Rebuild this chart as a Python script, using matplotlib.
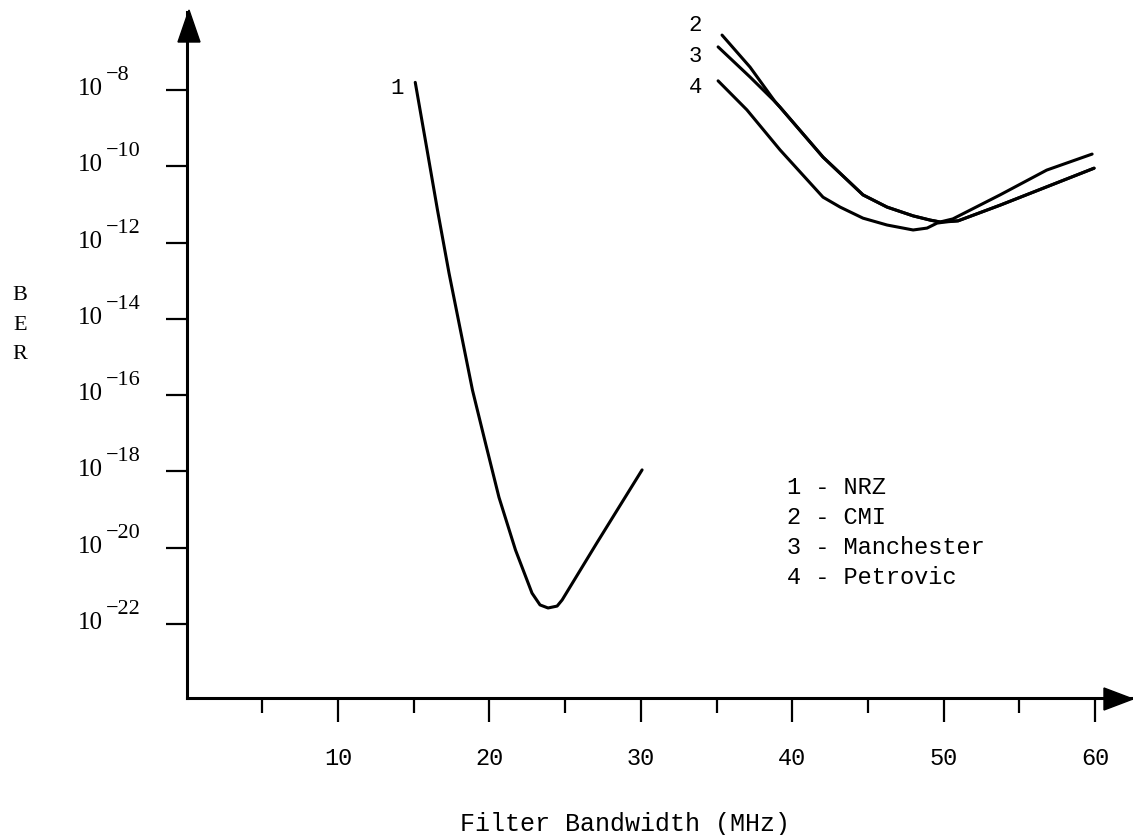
import numpy as np
import matplotlib
matplotlib.use("Agg")
import matplotlib.pyplot as plt
from matplotlib.patches import Polygon
from matplotlib.ticker import NullLocator

# curves: filter bandwidth (MHz) and log10(BER)
nrz_bw = [15.1, 15.88, 16.57, 17.33, 17.99, 18.88, 19.74, 20.63, 21.72, 22.81,
          23.34, 23.87, 24.47, 24.8, 27.1, 30.08]
nrz_log = [-7.8, -9.57, -11.15, -12.80, -14.11, -15.87, -17.26, -18.68, -20.06,
           -21.19, -21.50, -21.58, -21.53, -21.37, -19.87, -17.96]

cmi_bw = [35.36, 37.21, 38.87, 39.19, 42.03, 44.67, 46.26, 47.98, 49.1, 49.76,
          50.6, 53.72, 56.8, 59.8]
cmi_log = [-6.56, -7.40, -8.31, -8.45, -9.76, -10.75, -11.07, -11.30, -11.41,
           -11.46, -11.38, -10.75, -10.1, -9.68]

man_bw = [35.1, 37.21, 38.87, 39.19, 42.03, 44.67, 46.26, 47.98, 49.1, 49.76,
          50.95, 53.72, 59.93]
man_log = [-6.87, -7.66, -8.31, -8.45, -9.76, -10.75, -11.07, -11.30, -11.41,
           -11.46, -11.43, -11.02, -10.05]

pet_bw = [35.1, 37.0, 39.19, 40.7, 42.03, 43.16, 44.67, 46.26, 47.98, 48.9,
          49.56, 50.1, 50.95, 53.72, 59.93]
pet_log = [-7.76, -8.52, -9.57, -10.23, -10.81, -11.07, -11.36, -11.54, -11.67,
           -11.62, -11.49, -11.46, -11.43, -11.02, -10.05]

curves = [("1", nrz_bw, nrz_log, (-18, -6)),
          ("2", cmi_bw, cmi_log, (-27, 10)),
          ("3", man_bw, man_log, (-23, -10)),
          ("4", pet_bw, pet_log, (-23, -7))]

legend_lines = ["1 - NRZ", "2 - CMI", "3 - Manchester", "4 - Petrovic"]

ytick_exp = [-8, -10, -12, -14, -16, -18, -20, -22]
xtick_major = [10, 20, 30, 40, 50, 60]
xtick_minor = [5, 15, 25, 35, 45, 55]

W, H = 1133, 835
fig = plt.figure(figsize=(W / 100, H / 100), dpi=100)
fig.patch.set_facecolor("white")

# axes box in pixels: x from 186.6 to 1133, y from 12 to 698
ax = fig.add_axes([186.6 / W, (H - 698) / H, (W - 186.6) / W, (698 - 12) / H])
ax.set_yscale("log")
ax.set_xlim(0, 62.5)
ax.set_ylim(10 ** -23.94, 10 ** -5.955)

for spine in ["top", "right"]:
    ax.spines[spine].set_visible(False)
for spine in ["left", "bottom"]:
    ax.spines[spine].set_linewidth(2.2)

mono = "Liberation Mono"
serif = "Liberation Serif"

for lab, bw, lg, off in curves:
    ber = 10.0 ** np.array(lg)
    ax.plot(bw, ber, color="black", lw=2.2, solid_capstyle="round",
            solid_joinstyle="round")
    ax.annotate(lab, xy=(bw[0], ber[0]), xytext=off, textcoords="offset pixels",
                ha="center", va="center", fontsize=16, family=mono)

# y ticks (labels drawn by hand: 10 with a raised exponent)
ax.set_yticks([10.0 ** e for e in ytick_exp])
ax.yaxis.set_minor_locator(NullLocator())
ax.set_yticklabels([])
ax.tick_params(axis="y", direction="out", length=15, width=1.6)
for e in ytick_exp:
    ax.annotate("10", xy=(0, 10.0 ** e), xycoords=("axes fraction", "data"),
                xytext=(-84, -5), textcoords="offset pixels",
                ha="right", va="baseline", fontsize=18, family=serif)
    ax.annotate("\u2212" + str(-e), xy=(0, 10.0 ** e),
                xycoords=("axes fraction", "data"),
                xytext=(-81, 10), textcoords="offset pixels",
                ha="left", va="baseline", fontsize=16, family=serif)

# x ticks
ax.set_xticks(xtick_major)
ax.set_xticklabels([str(v) for v in xtick_major], family=mono, fontsize=17)
ax.set_xticks(xtick_minor, minor=True)
ax.tick_params(axis="x", which="major", direction="out", length=17, width=1.6, pad=18)
ax.tick_params(axis="x", which="minor", direction="out", length=11, width=1.6)

ax.set_xlabel("Filter Bandwidth (MHz)", family=mono, fontsize=18)
ax.xaxis.set_label_coords((625 - 186.6) / (W - 186.6), -0.166)

ax.set_ylabel("B\nE\nR", rotation=0, family=serif, fontsize=16, linespacing=1.75,
              va="center", ha="center")
ax.yaxis.set_label_coords((20 - 186.6) / (W - 186.6), (698 - 325) / 686)

for i, txt in enumerate(legend_lines):
    ax.text((787 - 186.6) / (W - 186.6), (698 - (488 + 30 * i)) / 686, txt,
            transform=ax.transAxes, ha="left", va="center", family=mono,
            fontsize=17)

# arrow heads on the axes
def px(x, y):
    return (x / 100, (H - y) / 100)

up = Polygon([px(189, 10), px(178, 42), px(200, 42)], closed=True,
             color="black", transform=fig.dpi_scale_trans)
right = Polygon([px(1133, 699), px(1104, 688), px(1104, 710)], closed=True,
                color="black", transform=fig.dpi_scale_trans)
fig.add_artist(up)
fig.add_artist(right)

fig.savefig("out.png", dpi=100, facecolor="white")
